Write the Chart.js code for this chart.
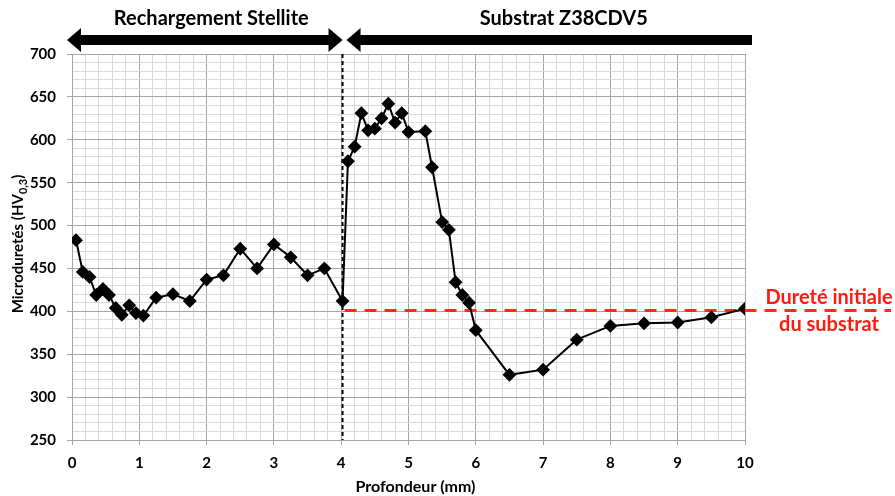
<!DOCTYPE html>
<html>
<head>
<meta charset="utf-8">
<script src="https://cdn.jsdelivr.net/npm/chart.js@4"></script>
<style>
  html, body { margin: 0; padding: 0; background: #fff; }
  #wrap { width: 895px; height: 496px; }
</style>
</head>
<body>
<div id="wrap"><canvas id="chart" width="895" height="496"></canvas></div>
<script>
// ---------------------------------------------------------------------------
// Data
// ---------------------------------------------------------------------------
const depthMm = [
  0.06, 0.16, 0.26, 0.36, 0.46, 0.55, 0.65, 0.74, 0.85, 0.95, 1.06, 1.25,
  1.5, 1.75, 2.0, 2.25, 2.5, 2.75, 3.0, 3.25, 3.5, 3.75, 4.02,
  4.1, 4.2, 4.3, 4.4, 4.5, 4.6, 4.7, 4.8, 4.9, 5.0, 5.25, 5.35, 5.5, 5.6,
  5.7, 5.8, 5.9, 6.0, 6.5, 7.0, 7.5, 8.0, 8.5, 9.0, 9.5, 10.0
];
const hardnessHV = [
  483, 446, 440, 419, 426, 419, 404, 396, 407, 398, 395, 416,
  420, 412, 437, 442, 473, 450, 478, 463, 442, 450, 412,
  575, 592, 631, 611, 613, 625, 642, 620, 631, 609, 610, 568, 504, 495,
  434, 419, 410, 378, 326, 332, 367, 383, 386, 387, 393, 403
];

// zones shown by the arrows above the plot
const zoneLabels = ['Rechargement Stellite', 'Substrat Z38CDV5'];
const zoneFrom = [0, 4.02];
const zoneTo = [4.02, 10];

const interfaceDepth = 4.02;       // dashed vertical line
const initialHardness = 401;       // red dashed line
const initialHardnessLabel = ['Dureté initiale', 'du substrat'];

const yTitleMain = 'Microduretés (HV';
const yTitleSub = '0,3';
const xTitle = 'Profondeur (mm)';

const FONT = 'Lato, "Open Sans", sans-serif';
const MAJOR_GRID = '#a6a6a6';
const MINOR_GRID = '#d9d9d9';

function isMultiple(v, step) {
  const r = v / step;
  return Math.abs(r - Math.round(r)) < 1e-6;
}

// ---------------------------------------------------------------------------
// Overlay plugin: arrows, reference lines, titles, red annotation
// ---------------------------------------------------------------------------
const overlayPlugin = {
  id: 'overlay',
  beforeDatasetsDraw(chart) {
    const { ctx, chartArea, scales: { x, y } } = chart;
    ctx.save();

    // interface line
    const xi = x.getPixelForValue(interfaceDepth);
    ctx.strokeStyle = '#000';
    ctx.lineWidth = 2;
    ctx.setLineDash([4, 3]);
    ctx.beginPath();
    ctx.moveTo(xi, chartArea.top);
    ctx.lineTo(xi, chartArea.bottom);
    ctx.stroke();

    // initial hardness line (runs past the plot to the annotation)
    const yr = y.getPixelForValue(initialHardness);
    ctx.strokeStyle = '#ff2a12';
    ctx.lineWidth = 3;
    ctx.setLineDash([12, 8]);
    ctx.beginPath();
    ctx.moveTo(xi + 2, yr);
    ctx.lineTo(chart.width - 4, yr);
    ctx.stroke();
    ctx.restore();
  },
  afterDraw(chart) {
    const { ctx, chartArea, scales: { x, y } } = chart;
    ctx.save();

    // zone arrows
    const ay = chartArea.top - 14;
    zoneLabels.forEach((label, i) => {
      const x0 = x.getPixelForValue(zoneFrom[i]) + (i === 0 ? -5 : 4);
      const x1 = x.getPixelForValue(zoneTo[i]) + (i === 0 ? 0 : 7);
      const headW = 14, headH = 12, body = 5;
      ctx.fillStyle = '#000';
      ctx.beginPath();
      ctx.moveTo(x0, ay);
      ctx.lineTo(x0 + headW, ay - headH);
      ctx.lineTo(x0 + headW, ay - body);
      if (i === 0) {
        ctx.lineTo(x1 - headW, ay - body);
        ctx.lineTo(x1 - headW, ay - headH);
        ctx.lineTo(x1, ay);
        ctx.lineTo(x1 - headW, ay + headH);
        ctx.lineTo(x1 - headW, ay + body);
      } else {
        ctx.lineTo(x1, ay - body);
        ctx.lineTo(x1, ay + body);
      }
      ctx.lineTo(x0 + headW, ay + body);
      ctx.lineTo(x0 + headW, ay + headH);
      ctx.closePath();
      ctx.fill();

      ctx.font = 'bold 20px ' + FONT;
      ctx.textAlign = 'center';
      ctx.textBaseline = 'middle';
      const mid = (x.getPixelForValue(zoneFrom[i]) + x.getPixelForValue(zoneTo[i])) / 2;
      ctx.fillText(label, mid + (i === 0 ? 4 : 20), ay - 21);
    });

    // red annotation
    const yr = y.getPixelForValue(initialHardness);
    ctx.fillStyle = '#ff1a0d';
    ctx.font = 'bold 20px ' + FONT;
    ctx.textAlign = 'center';
    ctx.textBaseline = 'middle';
    ctx.fillText(initialHardnessLabel[0], 829, yr - 13);
    ctx.fillText(initialHardnessLabel[1], 829, yr + 14);

    // x axis title
    ctx.fillStyle = '#000';
    ctx.font = 'bold 16px ' + FONT;
    ctx.fillText(xTitle, (chartArea.left + chartArea.right) / 2 + 7, 487);

    // y axis title with subscript
    ctx.translate(18, 244);
    ctx.rotate(-Math.PI / 2);
    ctx.textAlign = 'left';
    ctx.font = 'bold 15px ' + FONT;
    const wMain = ctx.measureText(yTitleMain).width;
    ctx.font = 'bold 11px ' + FONT;
    const wSub = ctx.measureText(yTitleSub).width;
    ctx.font = 'bold 15px ' + FONT;
    const wEnd = ctx.measureText(')').width;
    let tx = -(wMain + wSub + wEnd) / 2;
    ctx.fillText(yTitleMain, tx, 0);
    tx += wMain;
    ctx.font = 'bold 11px ' + FONT;
    ctx.fillText(yTitleSub, tx, 5);
    tx += wSub;
    ctx.font = 'bold 15px ' + FONT;
    ctx.fillText(')', tx, 0);

    ctx.restore();
  }
};

// ---------------------------------------------------------------------------
// Chart
// ---------------------------------------------------------------------------
const points = depthMm.map((d, i) => ({ x: d, y: hardnessHV[i] }));

new Chart(document.getElementById('chart').getContext('2d'), {
  type: 'scatter',
  data: {
    datasets: [{
      data: points,
      showLine: true,
      borderColor: '#000',
      borderWidth: 2,
      pointStyle: 'rectRot',
      pointRadius: 5.5,
      pointBackgroundColor: '#000',
      pointBorderColor: '#000',
      tension: 0
    }]
  },
  options: {
    responsive: false,
    animation: false,
    devicePixelRatio: 1,
    layout: { padding: { top: 54, right: 150, bottom: 0, left: 0 } },
    plugins: {
      legend: { display: false },
      tooltip: { enabled: false }
    },
    scales: {
      x: {
        type: 'linear',
        min: 0,
        max: 10,
        afterFit: s => { s.height = 56; },
        border: { color: MAJOR_GRID, width: 1 },
        grid: {
          color: c => isMultiple(c.tick.value, 1) ? MAJOR_GRID : MINOR_GRID,
          tickColor: c => isMultiple(c.tick.value, 1) ? MAJOR_GRID : 'rgba(0,0,0,0)',
          tickLength: 5
        },
        ticks: {
          stepSize: 0.2,
          autoSkip: false,
          maxRotation: 0,
          padding: 9,
          color: '#000',
          font: { family: FONT, size: 15, weight: 'bold' },
          callback: v => isMultiple(v, 1) ? String(Math.round(v)) : ''
        }
      },
      y: {
        min: 250,
        max: 700,
        afterFit: s => { s.width = 72; },
        border: { color: MAJOR_GRID, width: 1 },
        grid: {
          color: c => isMultiple(c.tick.value, 50) ? MAJOR_GRID : MINOR_GRID,
          tickColor: c => isMultiple(c.tick.value, 50) ? MAJOR_GRID : 'rgba(0,0,0,0)',
          tickLength: 5
        },
        ticks: {
          stepSize: 10,
          autoSkip: false,
          padding: 11,
          color: '#000',
          font: { family: FONT, size: 15, weight: 'bold' },
          callback: v => isMultiple(v, 50) ? String(Math.round(v)) : ''
        }
      }
    }
  },
  plugins: [overlayPlugin]
});
</script>
</body>
</html>
